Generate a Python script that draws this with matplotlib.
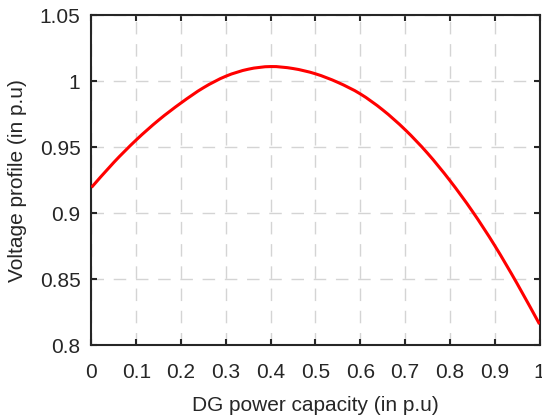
import matplotlib
matplotlib.use("Agg")
import matplotlib.pyplot as plt
from matplotlib.path import Path
from matplotlib.patches import PathPatch
import numpy as np

plt.rcParams['font.family'] = ['Liberation Sans', 'DejaVu Sans']
plt.rcParams['lines.scale_dashes'] = False

# values
dg_capacity = [0.0, 0.05, 0.1, 0.15, 0.2, 0.25, 0.3, 0.35, 0.4, 0.45, 0.5,
               0.55, 0.6, 0.65, 0.7, 0.75, 0.8, 0.85, 0.9, 0.95, 1.0]
voltage = [0.9195, 0.9385, 0.9555, 0.9705, 0.9835, 0.9950, 1.0037, 1.0090,
           1.0110, 1.0095, 1.0055, 0.9990, 0.9903, 0.9782, 0.9632, 0.9454,
           0.9247, 0.9015, 0.8755, 0.8467, 0.8160]

x_ticks = [0, 0.1, 0.2, 0.3, 0.4, 0.5, 0.6, 0.7, 0.8, 0.9, 1]
x_labels = ['0', '0.1', '0.2', '0.3', '0.4', '0.5', '0.6', '0.7', '0.8', '0.9', '1']
y_ticks = [0.8, 0.85, 0.9, 0.95, 1.0, 1.05]
y_labels = ['0.8', '0.85', '0.9', '0.95', '1', '1.05']

dark = '#262626'

fig = plt.figure(figsize=(5.42, 4.18), dpi=100)
ax = fig.add_axes([0.1688, 0.174, 0.8266, 0.790])

# smooth curve through the read points (Catmull-Rom as cubic Bezier)
pts = np.column_stack([dg_capacity, voltage])
padded = np.vstack([pts[0], pts, pts[-1]])
verts = [pts[0]]
codes = [Path.MOVETO]
for i in range(1, len(padded) - 2):
    p0, p1, p2, p3 = padded[i - 1], padded[i], padded[i + 1], padded[i + 2]
    verts += [p1 + (p2 - p0) / 6, p2 - (p3 - p1) / 6, p2]
    codes += [Path.CURVE4] * 3
curve = PathPatch(Path(verts, codes), fill=False, edgecolor='red',
                  linewidth=2.2, zorder=3, capstyle='butt')
ax.add_patch(curve)

ax.set_xlim(0, 1)
ax.set_ylim(0.8, 1.05)
ax.set_xticks(x_ticks)
ax.set_xticklabels(x_labels)
ax.set_yticks(y_ticks)
ax.set_yticklabels(y_labels)

ax.grid(True, color='#d4d4d4', linewidth=1.0, linestyle=(0, (9, 7)), zorder=0)

for s in ax.spines.values():
    s.set_color(dark)
    s.set_linewidth(1.5)

ax.tick_params(direction='in', top=True, right=True, length=4, width=1.5,
               colors=dark, labelsize=15)
ax.tick_params(axis='x', pad=13)
ax.tick_params(axis='y', pad=8)

ax.set_xlabel('DG power capacity (in p.u)', fontsize=15, color=dark, labelpad=10)
ax.set_ylabel('Voltage profile (in p.u)', fontsize=15, color=dark, labelpad=9)

fig.savefig('out.png', dpi=100)
